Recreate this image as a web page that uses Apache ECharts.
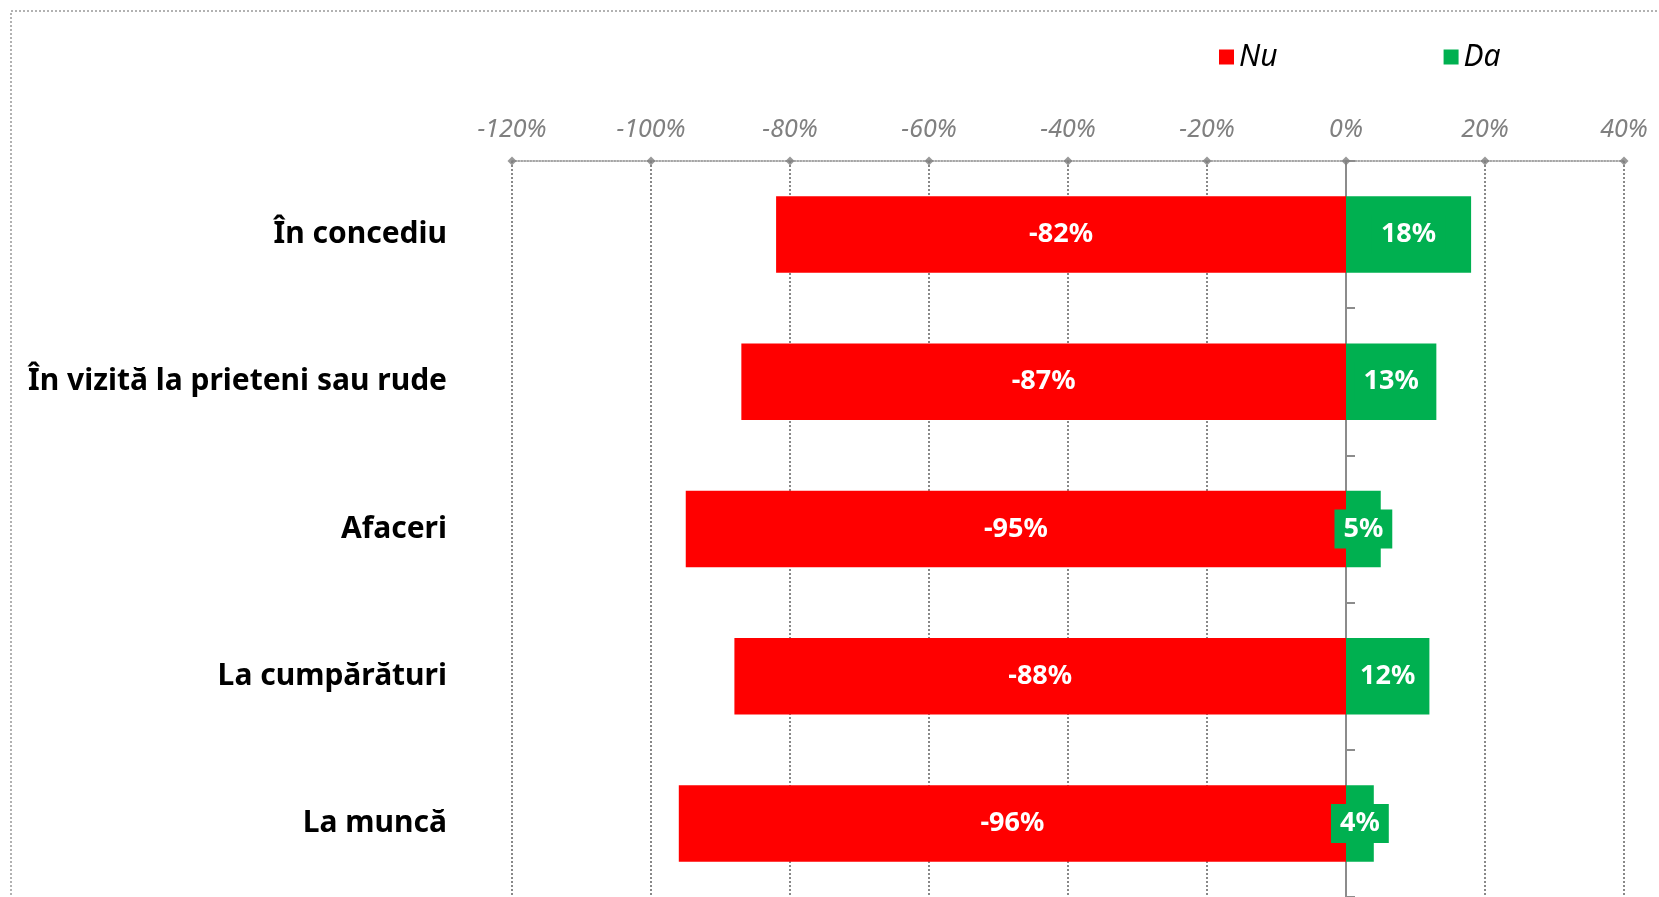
<!DOCTYPE html>
<html>
<head>
<meta charset="utf-8">
<script src="https://cdn.jsdelivr.net/npm/echarts@6/dist/echarts.min.js"></script>
<style>
html, body { margin: 0; padding: 0; background: #fff; }
#chart { width: 1659px; height: 897px; }
</style>
</head>
<body>
<div id="chart"></div>
<script>
// categories top to bottom
const categories = ['În concediu', 'În vizită la prieteni sau rude', 'Afaceri', 'La cumpărături', 'La muncă']
const nuValues = [-82, -87, -95, -88, -96]
const daValues = [18, 13, 5, 12, 4]
const xTicks = [-120, -100, -80, -60, -40, -20, 0, 20, 40]

const chart = echarts.init(document.getElementById('chart'))
chart.setOption({
    animation: false,
    textStyle: { fontFamily: 'Noto Sans' },
    graphic: [{
        type: 'rect',
        shape: { x: 11, y: 11, width: 1700, height: 1000 },
        style: { fill: 'none', stroke: '#999', lineWidth: 1.5, lineDash: [2, 2] },
        silent: true
    }],
    legend: {
        data: ['Nu', 'Da'],
        left: 1214,
        top: 37,
        icon: 'rect',
        itemWidth: 15,
        itemHeight: 15,
        itemGap: 166,
        textStyle: { fontSize: 30, fontStyle: 'italic', color: '#000' }
    },
    grid: { left: 512, right: 35, top: 161, bottom: 0 },
    xAxis: {
        type: 'value',
        position: 'top',
        min: -120,
        max: 40,
        interval: 20,
        axisLine: { show: true, onZero: false, lineStyle: { color: '#888', type: 'dotted', width: 1.5 } },
        axisTick: { show: false },
        axisLabel: {
            margin: 19,
            formatter: '{value}%',
            color: '#808080',
            fontSize: 25,
            fontStyle: 'italic'
        },
        splitLine: { show: true, lineStyle: { color: '#888', type: 'dotted', width: 2 } }
    },
    yAxis: [
        {
            type: 'category',
            data: categories,
            inverse: true,
            axisLine: { show: false, onZero: false },
            axisTick: { show: false },
            axisLabel: { margin: 65, fontSize: 30, fontWeight: 'bold', color: '#000', padding: [6, 0, 0, 0] }
        },
        {
            type: 'category',
            data: categories,
            inverse: true,
            axisLine: { show: true, onZero: true, lineStyle: { color: '#8c8c8c', width: 2 } },
            axisTick: { show: true, length: 9, lineStyle: { color: '#8c8c8c', width: 2 } },
            axisLabel: { show: false }
        },
        { type: 'value', min: 0, max: 1, show: false }
    ],
    series: [
        {
            name: 'Nu',
            type: 'bar',
            stack: 'total',
            barWidth: '52%',
            data: nuValues,
            itemStyle: { color: '#FF0000' },
            label: {
                show: true,
                position: 'inside',
                formatter: '{c}%',
                color: '#fff',
                fontSize: 27,
                fontWeight: 'bold',
                padding: [6, 0, 0, 0]
            }
        },
        {
            name: 'Da',
            type: 'bar',
            stack: 'total',
            barWidth: '52%',
            data: daValues,
            itemStyle: { color: '#00B050' },
            label: {
                show: true,
                position: 'inside',
                formatter: '{c}%',
                color: '#fff',
                fontSize: 27,
                fontWeight: 'bold',
                backgroundColor: '#00B050',
                padding: [8, 9, 4, 9]
            }
        },
        {
            type: 'scatter',
            yAxisIndex: 2,
            data: xTicks.map(t => [t, 1]),
            symbol: 'diamond',
            symbolSize: 9,
            itemStyle: { color: '#808080' },
            clip: false,
            silent: true,
            z: 5
        }
    ]
})
</script>
</body>
</html>
